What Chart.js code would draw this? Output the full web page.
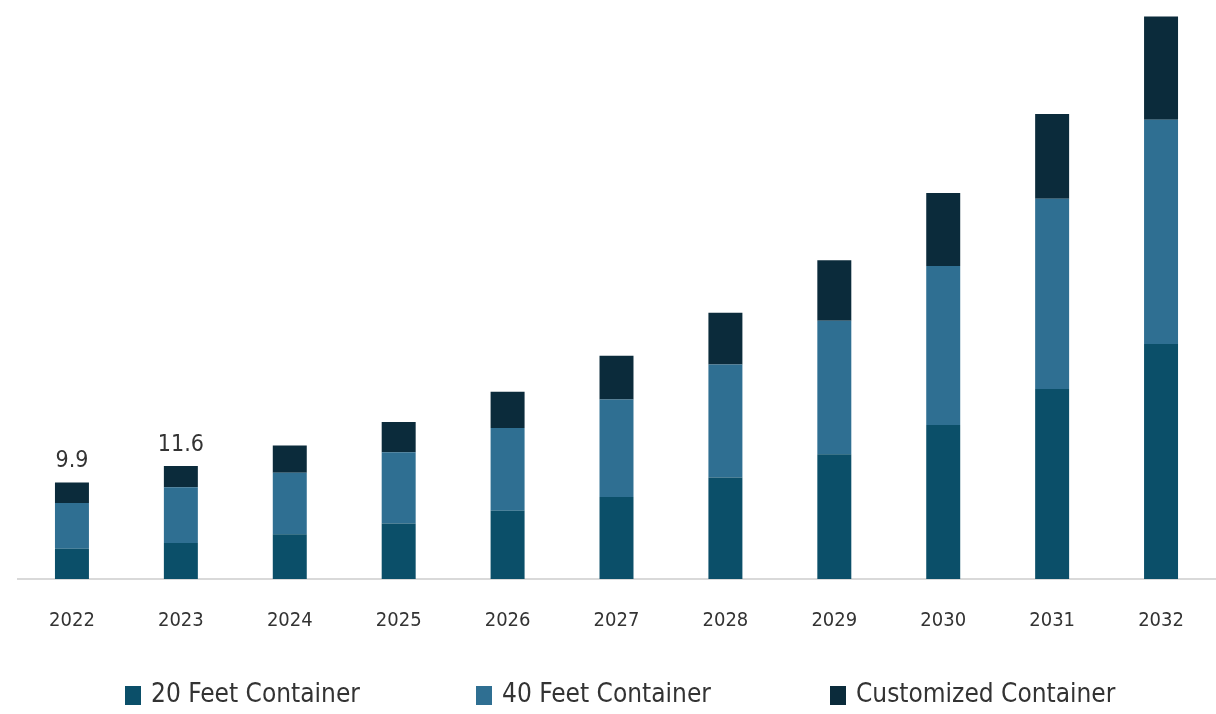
<!DOCTYPE html>
<html>
<head>
<meta charset="utf-8">
<script src="https://cdn.jsdelivr.net/npm/chart.js@4"></script>
<style>
  html, body { margin: 0; padding: 0; background: #fff; }
  #wrap { width: 1216px; height: 714px; }
</style>
</head>
<body>
<div id="wrap"><canvas id="myChart" width="1216" height="714"></canvas></div>
<script>
const years = ['2022', '2023', '2024', '2025', '2026', '2027', '2028', '2029', '2030', '2031', '2032'];
const feet20 = [3.1, 3.7, 4.6, 5.7, 7.0, 8.4, 10.4, 12.8, 15.8, 19.5, 24.1];
const feet40 = [4.7, 5.7, 6.3, 7.3, 8.5, 10.0, 11.6, 13.7, 16.3, 19.5, 23.0];
const customized = [2.1, 2.2, 2.8, 3.1, 3.7, 4.5, 5.3, 6.2, 7.5, 8.7, 10.6];
const totalLabels = ['9.9', '11.6', '', '', '', '', '', '', '', '', ''];

const seriesNames = ['20 Feet Container', '40 Feet Container', 'Customized Container'];
const seriesColors = ['#0b4f69', '#2f6f92', '#0b2b3b'];

const fontFamily = '"Liberation Sans Narrow", "DejaVu Sans Condensed", sans-serif';

// total value above the first bars
const totalsPlugin = {
    id: 'totals',
    afterDatasetsDraw(chart) {
        const ctx = chart.ctx;
        const topMeta = chart.getDatasetMeta(2);
        ctx.save();
        ctx.font = '23px ' + fontFamily;
        ctx.fillStyle = '#333';
        ctx.textAlign = 'center';
        ctx.textBaseline = 'alphabetic';
        for (let i = 0; i !== totalLabels.length; i++) {
            if (!totalLabels[i]) continue;
            const bar = topMeta.data[i];
            ctx.fillText(totalLabels[i], bar.x, bar.y - 15);
        }
        ctx.restore();
    }
};

// legend row under the axis, spaced wide like the original
const legendX = [125, 476, 830];
const legendPlugin = {
    id: 'wideLegend',
    afterDraw(chart) {
        const ctx = chart.ctx;
        const y = 695;
        ctx.save();
        ctx.font = '26px ' + fontFamily;
        ctx.textBaseline = 'middle';
        ctx.textAlign = 'left';
        for (let i = 0; i !== seriesNames.length; i++) {
            ctx.fillStyle = seriesColors[i];
            ctx.fillRect(legendX[i], y - 9, 16, 19);
            ctx.fillStyle = '#333';
            ctx.fillText(seriesNames[i], legendX[i] + 26, y);
        }
        ctx.restore();
    }
};

const chartData = {
    labels: years,
    datasets: [
        { label: seriesNames[0], data: feet20, backgroundColor: seriesColors[0] },
        { label: seriesNames[1], data: feet40, backgroundColor: seriesColors[1] },
        { label: seriesNames[2], data: customized, backgroundColor: seriesColors[2] }
    ]
};

const config = {
    type: 'bar',
    data: chartData,
    options: {
        responsive: false,
        animation: false,
        barPercentage: 0.312,
        categoryPercentage: 1,
        layout: {
            padding: { top: 13.5, left: 17.5, right: 0.5, bottom: 59 }
        },
        scales: {
            x: {
                stacked: true,
                grid: { display: false },
                border: { display: true, color: '#d9d9d9', width: 2 },
                ticks: {
                    padding: 22,
                    color: '#333',
                    font: { family: fontFamily, size: 20 }
                }
            },
            y: {
                stacked: true,
                display: false,
                min: 0,
                max: 58
            }
        },
        plugins: {
            legend: { display: false },
            tooltip: { enabled: false }
        }
    },
    plugins: [totalsPlugin, legendPlugin]
};

new Chart(document.getElementById('myChart'), config);
</script>
</body>
</html>
